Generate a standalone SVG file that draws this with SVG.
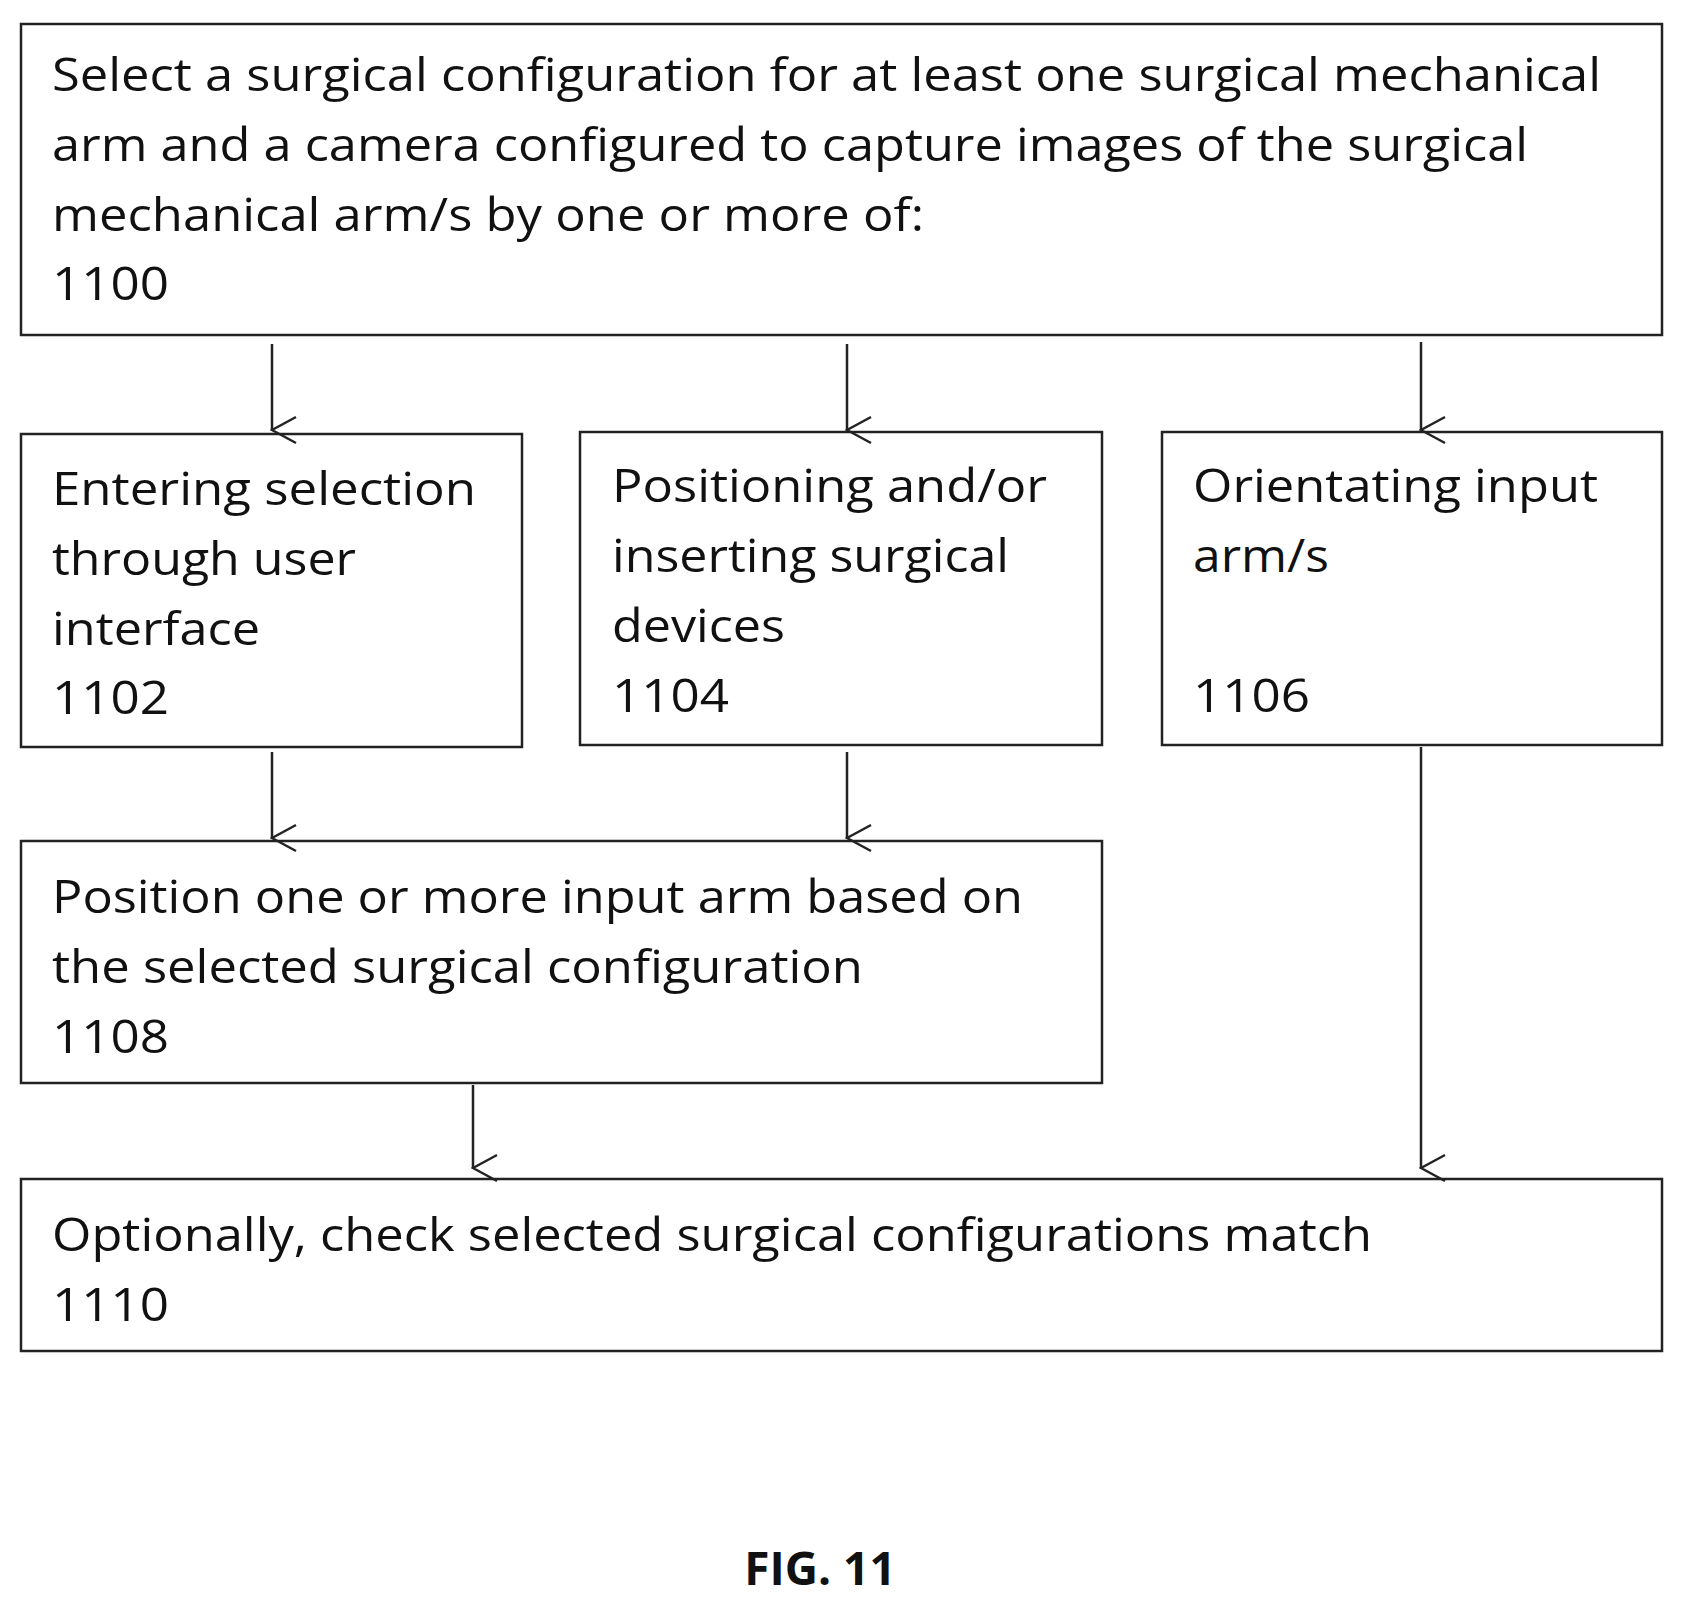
<svg xmlns="http://www.w3.org/2000/svg" width="1684" height="1608" viewBox="0 0 1684 1608">
<defs>
<style>
.box{fill:#fff;stroke:#222;stroke-width:2.5}
text{font-family:"Open Sans","Liberation Sans",sans-serif;font-size:46px;fill:#111}
.fig{font-weight:bold;font-size:46px}
.c line{stroke:#222;stroke-width:2.5}
</style>
<marker id="a" markerWidth="30" markerHeight="30" refX="15" refY="28" orient="auto" markerUnits="userSpaceOnUse" viewBox="0 0 30 30">
<path d="M2,4 L15,28 L28,4" fill="none" stroke="#222" stroke-width="2.5"/>
</marker>
</defs>
<rect width="1684" height="1608" fill="#fff"/>
<g id="n1100"><rect class="box" x="21" y="24" width="1641" height="311"/>
<text x="52" y="91" textLength="1549" lengthAdjust="spacingAndGlyphs">Select a surgical configuration for at least one surgical mechanical</text>
<text x="52" y="161" textLength="1476" lengthAdjust="spacingAndGlyphs">arm and a camera configured to capture images of the surgical</text>
<text x="52" y="231" textLength="872" lengthAdjust="spacingAndGlyphs">mechanical arm/s by one or more of:</text>
<text x="52" y="300" textLength="117" lengthAdjust="spacingAndGlyphs">1100</text></g>
<g id="n1102"><rect class="box" x="21" y="434" width="501" height="313"/>
<text x="52" y="505" textLength="424" lengthAdjust="spacingAndGlyphs">Entering selection</text>
<text x="52" y="575" textLength="304" lengthAdjust="spacingAndGlyphs">through user</text>
<text x="52" y="645" textLength="208" lengthAdjust="spacingAndGlyphs">interface</text>
<text x="52" y="714" textLength="117" lengthAdjust="spacingAndGlyphs">1102</text></g>
<g id="n1104"><rect class="box" x="580" y="432" width="522" height="313"/>
<text x="612" y="502" textLength="435" lengthAdjust="spacingAndGlyphs">Positioning and/or</text>
<text x="612" y="572" textLength="397" lengthAdjust="spacingAndGlyphs">inserting surgical</text>
<text x="612" y="642" textLength="173" lengthAdjust="spacingAndGlyphs">devices</text>
<text x="612" y="712" textLength="117" lengthAdjust="spacingAndGlyphs">1104</text></g>
<g id="n1106"><rect class="box" x="1162" y="432" width="500" height="313"/>
<text x="1193" y="502" textLength="405" lengthAdjust="spacingAndGlyphs">Orientating input</text>
<text x="1193" y="572" textLength="136" lengthAdjust="spacingAndGlyphs">arm/s</text>
<text x="1193" y="712" textLength="117" lengthAdjust="spacingAndGlyphs">1106</text></g>
<g id="n1108"><rect class="box" x="21" y="841" width="1081" height="242"/>
<text x="52" y="913" textLength="971" lengthAdjust="spacingAndGlyphs">Position one or more input arm based on</text>
<text x="52" y="983" textLength="811" lengthAdjust="spacingAndGlyphs">the selected surgical configuration</text>
<text x="52" y="1053" textLength="117" lengthAdjust="spacingAndGlyphs">1108</text></g>
<g id="n1110"><rect class="box" x="21" y="1179" width="1641" height="172"/>
<text x="52" y="1251" textLength="1320" lengthAdjust="spacingAndGlyphs">Optionally, check selected surgical configurations match</text>
<text x="52" y="1321" textLength="117" lengthAdjust="spacingAndGlyphs">1110</text></g>
<g class="c" id="connectors">
<line x1="272" y1="344" x2="272" y2="430" marker-end="url(#a)"/>
<line x1="847" y1="344" x2="847" y2="430" marker-end="url(#a)"/>
<line x1="1421" y1="342" x2="1421" y2="430" marker-end="url(#a)"/>
<line x1="272" y1="752" x2="272" y2="838" marker-end="url(#a)"/>
<line x1="847" y1="752" x2="847" y2="838" marker-end="url(#a)"/>
<line x1="473" y1="1085" x2="473" y2="1168" marker-end="url(#a)"/>
<line x1="1421" y1="747" x2="1421" y2="1168" marker-end="url(#a)"/>
</g>
<text class="fig" x="820" y="1585" text-anchor="middle">FIG. 11</text>
</svg>
